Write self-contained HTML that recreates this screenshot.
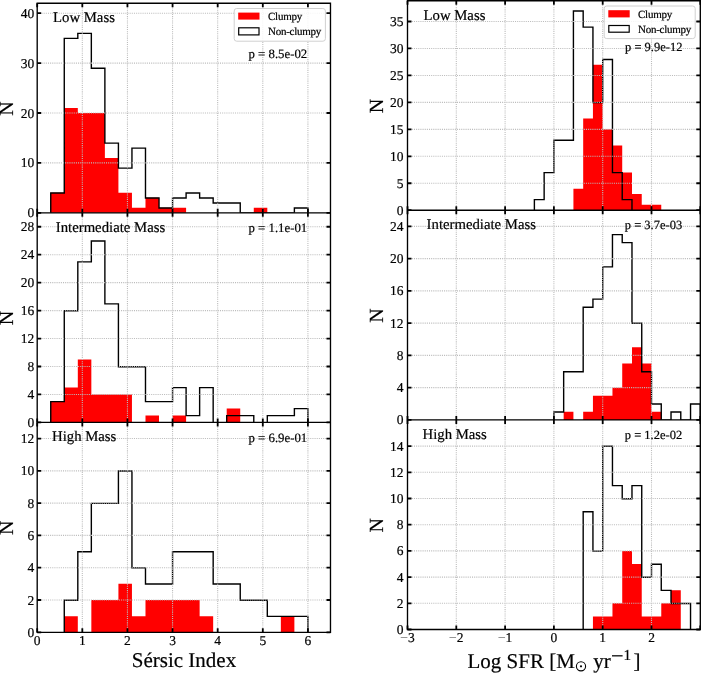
<!DOCTYPE html><html><head><meta charset="utf-8"><style>html,body{margin:0;padding:0;background:#fff;width:701px;height:678px;overflow:hidden}svg{display:block}text{font-family:"Liberation Serif", serif;fill:#000;text-rendering:geometricPrecision}.t{opacity:0.999}.t text{stroke:#000;stroke-width:0.2px}</style></head><body>
<svg width="701" height="678" viewBox="0 0 701 678">
<rect width="701" height="678" fill="#fff"/>
<clipPath id="c1"><rect x="37.2" y="3.2" width="293.28" height="209.6"/></clipPath>
<g clip-path="url(#c1)">
<path d="M50.74 213.4H64.27V192.84H50.74ZM64.27 213.4H77.81V108H64.27ZM77.81 213.4H91.34V112.99H77.81ZM91.34 213.4H104.88V112.99H91.34ZM104.88 213.4H118.42V157.9H104.88ZM118.42 213.4H131.95V192.84H118.42ZM131.95 213.4H145.49V207.81H131.95ZM145.49 213.4H159.02V197.83H145.49ZM159.02 213.4H172.56V207.81H159.02ZM172.56 213.4H186.1V207.81H172.56ZM253.78 213.4H267.31V207.81H253.78Z" fill="#ff0000"/>
<path d="M50.74 212.8 L50.74 192.84 L64.27 192.84 L64.27 38.13 L77.81 38.13 L77.81 33.14 L91.34 33.14 L91.34 68.08 L104.88 68.08 L104.88 142.93 L118.42 142.93 L118.42 167.89 L131.95 167.89 L131.95 147.92 L145.49 147.92 L145.49 197.83 L159.02 197.83 L159.02 207.81 L172.56 207.81 L172.56 197.83 L186.1 197.83 L186.1 192.84 L199.63 192.84 L199.63 197.83 L213.17 197.83 L213.17 202.82 L226.7 202.82 L226.7 202.82 L240.24 202.82 L240.24 212.8 L253.78 212.8 L253.78 212.8 L267.31 212.8 L267.31 212.8 L280.85 212.8 L280.85 212.8 L294.38 212.8 L294.38 207.81 L307.92 207.81 L307.92 212.8" fill="none" stroke="#000" stroke-width="1.4" stroke-linejoin="miter" transform="translate(0 0.2)"/>
<path d="M82.32 3.2V212.8M127.44 3.2V212.8M172.56 3.2V212.8M217.68 3.2V212.8M262.8 3.2V212.8M307.92 3.2V212.8M37.2 162.9H330.48M37.2 112.99H330.48M37.2 63.09H330.48M37.2 13.18H330.48" fill="none" stroke="#bcbcbc" stroke-width="1.1" stroke-dasharray="1.05 1.1"/>
</g>
<clipPath id="c2"><rect x="37.2" y="212.8" width="293.28" height="209.6"/></clipPath>
<g clip-path="url(#c2)">
<path d="M50.74 423H64.27V401.44H50.74ZM64.27 423H77.81V387.47H64.27ZM77.81 423H91.34V359.52H77.81ZM91.34 423H104.88V394.45H91.34ZM104.88 423H118.42V394.45H104.88ZM118.42 423H131.95V394.45H118.42ZM145.49 423H159.02V415.41H145.49ZM172.56 423H186.1V415.41H172.56ZM226.7 423H240.24V408.43H226.7Z" fill="#ff0000"/>
<path d="M50.74 422.4 L50.74 401.44 L64.27 401.44 L64.27 310.61 L77.81 310.61 L77.81 261.71 L91.34 261.71 L91.34 240.75 L104.88 240.75 L104.88 303.63 L118.42 303.63 L118.42 366.51 L131.95 366.51 L131.95 366.51 L145.49 366.51 L145.49 401.44 L159.02 401.44 L159.02 401.44 L172.56 401.44 L172.56 387.47 L186.1 387.47 L186.1 415.41 L199.63 415.41 L199.63 387.47 L213.17 387.47 L213.17 422.4 L226.7 422.4 L226.7 415.41 L240.24 415.41 L240.24 415.41 L253.78 415.41 L253.78 422.4 L267.31 422.4 L267.31 415.41 L280.85 415.41 L280.85 415.41 L294.38 415.41 L294.38 408.43 L307.92 408.43 L307.92 422.4" fill="none" stroke="#000" stroke-width="1.4" stroke-linejoin="miter" transform="translate(0 0.2)"/>
<path d="M82.32 212.8V422.4M127.44 212.8V422.4M172.56 212.8V422.4M217.68 212.8V422.4M262.8 212.8V422.4M307.92 212.8V422.4M37.2 394.45H330.48M37.2 366.51H330.48M37.2 338.56H330.48M37.2 310.61H330.48M37.2 282.67H330.48M37.2 254.72H330.48M37.2 226.77H330.48" fill="none" stroke="#bcbcbc" stroke-width="1.1" stroke-dasharray="1.05 1.1"/>
</g>
<clipPath id="c3"><rect x="37.2" y="422.4" width="293.28" height="209.9"/></clipPath>
<g clip-path="url(#c3)">
<path d="M64.27 632.9H77.81V616.15H64.27ZM91.34 632.9H104.88V600.01H91.34ZM104.88 632.9H118.42V600.01H104.88ZM118.42 632.9H131.95V583.86H118.42ZM131.95 632.9H145.49V616.15H131.95ZM145.49 632.9H159.02V600.01H145.49ZM159.02 632.9H172.56V600.01H159.02ZM172.56 632.9H186.1V600.01H172.56ZM186.1 632.9H199.63V600.01H186.1ZM199.63 632.9H213.17V616.15H199.63ZM280.85 632.9H294.38V616.15H280.85Z" fill="#ff0000"/>
<path d="M64.27 632.3 L64.27 600.01 L77.81 600.01 L77.81 551.57 L91.34 551.57 L91.34 503.13 L104.88 503.13 L104.88 503.13 L118.42 503.13 L118.42 470.84 L131.95 470.84 L131.95 567.72 L145.49 567.72 L145.49 583.86 L159.02 583.86 L159.02 583.86 L172.56 583.86 L172.56 551.57 L186.1 551.57 L186.1 551.57 L199.63 551.57 L199.63 551.57 L213.17 551.57 L213.17 583.86 L226.7 583.86 L226.7 583.86 L240.24 583.86 L240.24 600.01 L253.78 600.01 L253.78 600.01 L267.31 600.01 L267.31 616.15 L280.85 616.15 L280.85 616.15 L294.38 616.15 L294.38 616.15 L307.92 616.15 L307.92 632.3" fill="none" stroke="#000" stroke-width="1.4" stroke-linejoin="miter" transform="translate(0 0.2)"/>
<path d="M82.32 422.4V632.3M127.44 422.4V632.3M172.56 422.4V632.3M217.68 422.4V632.3M262.8 422.4V632.3M307.92 422.4V632.3M37.2 600.01H330.48M37.2 567.72H330.48M37.2 535.42H330.48M37.2 503.13H330.48M37.2 470.84H330.48M37.2 438.55H330.48" fill="none" stroke="#bcbcbc" stroke-width="1.1" stroke-dasharray="1.05 1.1"/>
</g>
<clipPath id="c4"><rect x="407.5" y="0.76" width="292.8" height="209.44"/></clipPath>
<g clip-path="url(#c4)">
<path d="M573.42 210.8H583.18V188.64H573.42ZM583.18 210.8H592.94V118.55H583.18ZM592.94 210.8H602.7V64.64H592.94ZM602.7 210.8H612.46V129.34H602.7ZM612.46 210.8H622.22V145.51H612.46ZM622.22 210.8H631.98V172.46H622.22ZM631.98 210.8H641.74V194.03H631.98ZM641.74 210.8H651.5V204.81H641.74ZM651.5 210.8H661.26V204.81H651.5Z" fill="#ff0000"/>
<path d="M534.38 210.2 L534.38 199.42 L544.14 199.42 L544.14 172.46 L553.9 172.46 L553.9 140.12 L563.66 140.12 L563.66 140.12 L573.42 140.12 L573.42 10.73 L583.18 10.73 L583.18 26.91 L592.94 26.91 L592.94 102.38 L602.7 102.38 L602.7 59.25 L612.46 59.25 L612.46 172.46 L622.22 172.46 L622.22 199.42 L631.98 199.42 L631.98 210.2" fill="none" stroke="#000" stroke-width="1.4" stroke-linejoin="miter" transform="translate(0 0.2)"/>
<path d="M456.3 0.76V210.2M505.1 0.76V210.2M553.9 0.76V210.2M602.7 0.76V210.2M651.5 0.76V210.2M407.5 183.25H700.3M407.5 156.29H700.3M407.5 129.34H700.3M407.5 102.38H700.3M407.5 75.43H700.3M407.5 48.47H700.3M407.5 21.52H700.3" fill="none" stroke="#bcbcbc" stroke-width="1.1" stroke-dasharray="1.05 1.1"/>
</g>
<clipPath id="c5"><rect x="407.5" y="210.2" width="292.8" height="209.7"/></clipPath>
<g clip-path="url(#c5)">
<path d="M563.66 420.5H573.42V411.83H563.66ZM583.18 420.5H592.94V411.83H583.18ZM592.94 420.5H602.7V395.7H592.94ZM602.7 420.5H612.46V395.7H602.7ZM612.46 420.5H622.22V387.64H612.46ZM622.22 420.5H631.98V363.44H622.22ZM631.98 420.5H641.74V347.31H631.98ZM641.74 420.5H651.5V363.44H641.74ZM651.5 420.5H661.26V411.83H651.5Z" fill="#ff0000"/>
<path d="M553.9 419.9 L553.9 411.83 L563.66 411.83 L563.66 371.51 L573.42 371.51 L573.42 371.51 L583.18 371.51 L583.18 306.98 L592.94 306.98 L592.94 298.92 L602.7 298.92 L602.7 266.66 L612.46 266.66 L612.46 234.4 L622.22 234.4 L622.22 242.46 L631.98 242.46 L631.98 323.12 L641.74 323.12 L641.74 371.51 L651.5 371.51 L651.5 403.77 L661.26 403.77 L661.26 419.9 L671.02 419.9 L671.02 411.83 L680.78 411.83 L680.78 419.9 L690.54 419.9 L690.54 403.77 L700.3 403.77 L700.3 419.9" fill="none" stroke="#000" stroke-width="1.4" stroke-linejoin="miter" transform="translate(0 0.2)"/>
<path d="M456.3 210.2V419.9M505.1 210.2V419.9M553.9 210.2V419.9M602.7 210.2V419.9M651.5 210.2V419.9M407.5 387.64H700.3M407.5 355.38H700.3M407.5 323.12H700.3M407.5 290.85H700.3M407.5 258.59H700.3M407.5 226.33H700.3" fill="none" stroke="#bcbcbc" stroke-width="1.1" stroke-dasharray="1.05 1.1"/>
</g>
<clipPath id="c6"><rect x="407.5" y="419.9" width="292.8" height="209.6"/></clipPath>
<g clip-path="url(#c6)">
<path d="M592.94 630.1H602.7V616.4H592.94ZM602.7 630.1H612.46V616.4H602.7ZM612.46 630.1H622.22V603.3H612.46ZM622.22 630.1H631.98V550.9H622.22ZM631.98 630.1H641.74V564H631.98ZM641.74 630.1H651.5V616.4H641.74ZM651.5 630.1H661.26V616.4H651.5ZM661.26 630.1H671.02V603.3H661.26ZM671.02 630.1H680.78V590.2H671.02Z" fill="#ff0000"/>
<path d="M583.18 629.5 L583.18 511.6 L592.94 511.6 L592.94 550.9 L602.7 550.9 L602.7 446.1 L612.46 446.1 L612.46 485.4 L622.22 485.4 L622.22 498.5 L631.98 498.5 L631.98 485.4 L641.74 485.4 L641.74 577.1 L651.5 577.1 L651.5 564 L661.26 564 L661.26 590.2 L671.02 590.2 L671.02 603.3 L680.78 603.3 L680.78 603.3 L690.54 603.3 L690.54 629.5" fill="none" stroke="#000" stroke-width="1.4" stroke-linejoin="miter" transform="translate(0 0.2)"/>
<path d="M456.3 419.9V629.5M505.1 419.9V629.5M553.9 419.9V629.5M602.7 419.9V629.5M651.5 419.9V629.5M407.5 603.3H700.3M407.5 577.1H700.3M407.5 550.9H700.3M407.5 524.7H700.3M407.5 498.5H700.3M407.5 472.3H700.3M407.5 446.1H700.3" fill="none" stroke="#bcbcbc" stroke-width="1.1" stroke-dasharray="1.05 1.1"/>
</g>
<path d="M37.2 212.8v-4M37.2 3.2v4M82.32 212.8v-4M82.32 3.2v4M127.44 212.8v-4M127.44 3.2v4M172.56 212.8v-4M172.56 3.2v4M217.68 212.8v-4M217.68 3.2v4M262.8 212.8v-4M262.8 3.2v4M307.92 212.8v-4M307.92 3.2v4M37.2 212.8h4M330.48 212.8h-4M37.2 162.9h4M330.48 162.9h-4M37.2 112.99h4M330.48 112.99h-4M37.2 63.09h4M330.48 63.09h-4M37.2 13.18h4M330.48 13.18h-4" stroke="#000" stroke-width="1.8" fill="none"/>
<path d="M37.2 422.4v-4M37.2 212.8v4M82.32 422.4v-4M82.32 212.8v4M127.44 422.4v-4M127.44 212.8v4M172.56 422.4v-4M172.56 212.8v4M217.68 422.4v-4M217.68 212.8v4M262.8 422.4v-4M262.8 212.8v4M307.92 422.4v-4M307.92 212.8v4M37.2 422.4h4M330.48 422.4h-4M37.2 394.45h4M330.48 394.45h-4M37.2 366.51h4M330.48 366.51h-4M37.2 338.56h4M330.48 338.56h-4M37.2 310.61h4M330.48 310.61h-4M37.2 282.67h4M330.48 282.67h-4M37.2 254.72h4M330.48 254.72h-4M37.2 226.77h4M330.48 226.77h-4" stroke="#000" stroke-width="1.8" fill="none"/>
<path d="M37.2 632.3v-4M37.2 422.4v4M82.32 632.3v-4M82.32 422.4v4M127.44 632.3v-4M127.44 422.4v4M172.56 632.3v-4M172.56 422.4v4M217.68 632.3v-4M217.68 422.4v4M262.8 632.3v-4M262.8 422.4v4M307.92 632.3v-4M307.92 422.4v4M37.2 632.3h4M330.48 632.3h-4M37.2 600.01h4M330.48 600.01h-4M37.2 567.72h4M330.48 567.72h-4M37.2 535.42h4M330.48 535.42h-4M37.2 503.13h4M330.48 503.13h-4M37.2 470.84h4M330.48 470.84h-4M37.2 438.55h4M330.48 438.55h-4" stroke="#000" stroke-width="1.8" fill="none"/>
<path d="M37.2 3.2H330.48V632.3H37.2ZM37.2 212.8H330.48M37.2 422.4H330.48" fill="none" stroke="#000" stroke-width="1.35"/>
<path d="M407.5 210.2v-4M407.5 0.76v4M456.3 210.2v-4M456.3 0.76v4M505.1 210.2v-4M505.1 0.76v4M553.9 210.2v-4M553.9 0.76v4M602.7 210.2v-4M602.7 0.76v4M651.5 210.2v-4M651.5 0.76v4M700.3 210.2v-4M700.3 0.76v4M407.5 210.2h4M700.3 210.2h-4M407.5 183.25h4M700.3 183.25h-4M407.5 156.29h4M700.3 156.29h-4M407.5 129.34h4M700.3 129.34h-4M407.5 102.38h4M700.3 102.38h-4M407.5 75.43h4M700.3 75.43h-4M407.5 48.47h4M700.3 48.47h-4M407.5 21.52h4M700.3 21.52h-4" stroke="#000" stroke-width="1.8" fill="none"/>
<path d="M407.5 419.9v-4M407.5 210.2v4M456.3 419.9v-4M456.3 210.2v4M505.1 419.9v-4M505.1 210.2v4M553.9 419.9v-4M553.9 210.2v4M602.7 419.9v-4M602.7 210.2v4M651.5 419.9v-4M651.5 210.2v4M700.3 419.9v-4M700.3 210.2v4M407.5 419.9h4M700.3 419.9h-4M407.5 387.64h4M700.3 387.64h-4M407.5 355.38h4M700.3 355.38h-4M407.5 323.12h4M700.3 323.12h-4M407.5 290.85h4M700.3 290.85h-4M407.5 258.59h4M700.3 258.59h-4M407.5 226.33h4M700.3 226.33h-4" stroke="#000" stroke-width="1.8" fill="none"/>
<path d="M407.5 629.5v-4M407.5 419.9v4M456.3 629.5v-4M456.3 419.9v4M505.1 629.5v-4M505.1 419.9v4M553.9 629.5v-4M553.9 419.9v4M602.7 629.5v-4M602.7 419.9v4M651.5 629.5v-4M651.5 419.9v4M700.3 629.5v-4M700.3 419.9v4M407.5 629.5h4M700.3 629.5h-4M407.5 603.3h4M700.3 603.3h-4M407.5 577.1h4M700.3 577.1h-4M407.5 550.9h4M700.3 550.9h-4M407.5 524.7h4M700.3 524.7h-4M407.5 498.5h4M700.3 498.5h-4M407.5 472.3h4M700.3 472.3h-4M407.5 446.1h4M700.3 446.1h-4" stroke="#000" stroke-width="1.8" fill="none"/>
<path d="M407.5 0.76H700.3V629.5H407.5ZM407.5 210.2H700.3M407.5 419.9H700.3" fill="none" stroke="#000" stroke-width="1.35"/>
<g class="t">
<text x="34.2" y="217.39" font-size="13.5" text-anchor="end">0</text>
<text x="34.2" y="167.49" font-size="13.5" text-anchor="end">10</text>
<text x="34.2" y="117.58" font-size="13.5" text-anchor="end">20</text>
<text x="34.2" y="67.68" font-size="13.5" text-anchor="end">30</text>
<text x="34.2" y="17.77" font-size="13.5" text-anchor="end">40</text>
<text x="34.2" y="426.99" font-size="13.5" text-anchor="end">0</text>
<text x="34.2" y="399.04" font-size="13.5" text-anchor="end">4</text>
<text x="34.2" y="371.1" font-size="13.5" text-anchor="end">8</text>
<text x="34.2" y="343.15" font-size="13.5" text-anchor="end">12</text>
<text x="34.2" y="315.2" font-size="13.5" text-anchor="end">16</text>
<text x="34.2" y="287.26" font-size="13.5" text-anchor="end">20</text>
<text x="34.2" y="259.31" font-size="13.5" text-anchor="end">24</text>
<text x="34.2" y="231.36" font-size="13.5" text-anchor="end">28</text>
<text x="34.2" y="636.89" font-size="13.5" text-anchor="end">0</text>
<text x="34.2" y="604.6" font-size="13.5" text-anchor="end">2</text>
<text x="34.2" y="572.31" font-size="13.5" text-anchor="end">4</text>
<text x="34.2" y="540.01" font-size="13.5" text-anchor="end">6</text>
<text x="34.2" y="507.72" font-size="13.5" text-anchor="end">8</text>
<text x="34.2" y="475.43" font-size="13.5" text-anchor="end">10</text>
<text x="34.2" y="443.14" font-size="13.5" text-anchor="end">12</text>
<text x="403.5" y="214.79" font-size="13.5" text-anchor="end">0</text>
<text x="403.5" y="187.84" font-size="13.5" text-anchor="end">5</text>
<text x="403.5" y="160.88" font-size="13.5" text-anchor="end">10</text>
<text x="403.5" y="133.93" font-size="13.5" text-anchor="end">15</text>
<text x="403.5" y="106.97" font-size="13.5" text-anchor="end">20</text>
<text x="403.5" y="80.02" font-size="13.5" text-anchor="end">25</text>
<text x="403.5" y="53.06" font-size="13.5" text-anchor="end">30</text>
<text x="403.5" y="26.11" font-size="13.5" text-anchor="end">35</text>
<text x="403.5" y="424.49" font-size="13.5" text-anchor="end">0</text>
<text x="403.5" y="392.23" font-size="13.5" text-anchor="end">4</text>
<text x="403.5" y="359.97" font-size="13.5" text-anchor="end">8</text>
<text x="403.5" y="327.71" font-size="13.5" text-anchor="end">12</text>
<text x="403.5" y="295.44" font-size="13.5" text-anchor="end">16</text>
<text x="403.5" y="263.18" font-size="13.5" text-anchor="end">20</text>
<text x="403.5" y="230.92" font-size="13.5" text-anchor="end">24</text>
<text x="403.5" y="634.09" font-size="13.5" text-anchor="end">0</text>
<text x="403.5" y="607.89" font-size="13.5" text-anchor="end">2</text>
<text x="403.5" y="581.69" font-size="13.5" text-anchor="end">4</text>
<text x="403.5" y="555.49" font-size="13.5" text-anchor="end">6</text>
<text x="403.5" y="529.29" font-size="13.5" text-anchor="end">8</text>
<text x="403.5" y="503.09" font-size="13.5" text-anchor="end">10</text>
<text x="403.5" y="476.89" font-size="13.5" text-anchor="end">12</text>
<text x="403.5" y="450.69" font-size="13.5" text-anchor="end">14</text>
<text x="37.2" y="645" font-size="13.5" text-anchor="middle">0</text>
<text x="82.32" y="645" font-size="13.5" text-anchor="middle">1</text>
<text x="127.44" y="645" font-size="13.5" text-anchor="middle">2</text>
<text x="172.56" y="645" font-size="13.5" text-anchor="middle">3</text>
<text x="217.68" y="645" font-size="13.5" text-anchor="middle">4</text>
<text x="262.8" y="645" font-size="13.5" text-anchor="middle">5</text>
<text x="307.92" y="645" font-size="13.5" text-anchor="middle">6</text>
<text x="407.5" y="642" font-size="13.5" text-anchor="middle"><tspan fill="#707070" style="stroke:#909090">−</tspan>3</text>
<text x="456.3" y="642" font-size="13.5" text-anchor="middle"><tspan fill="#707070" style="stroke:#909090">−</tspan>2</text>
<text x="505.1" y="642" font-size="13.5" text-anchor="middle"><tspan fill="#707070" style="stroke:#909090">−</tspan>1</text>
<text x="553.9" y="642" font-size="13.5" text-anchor="middle">0</text>
<text x="602.7" y="642" font-size="13.5" text-anchor="middle">1</text>
<text x="651.5" y="642" font-size="13.5" text-anchor="middle">2</text>
<text x="53.0" y="22.0" font-size="14.75">Low Mass</text>
<text x="55.8" y="231.9" font-size="14.75">Intermediate Mass</text>
<text x="52.0" y="441.4" font-size="14.75">High Mass</text>
<text x="423.5" y="19.5" font-size="14.75">Low Mass</text>
<text x="426.6" y="229.4" font-size="14.75">Intermediate Mass</text>
<text x="422.5" y="438.8" font-size="14.75">High Mass</text>
<text x="248.5" y="57.7" font-size="12.8">p = 8.5e-02</text>
<text x="248.5" y="231.9" font-size="12.8">p = 1.1e-01</text>
<text x="248.5" y="441.5" font-size="12.8">p = 6.9e-01</text>
<text x="625.0" y="51.0" font-size="12.5">p = 9.9e-12</text>
<text x="624.8" y="229.1" font-size="12.5">p = 3.7e-03</text>
<text x="624.8" y="439.2" font-size="12.5">p = 1.2e-02</text>
<rect x="234.2" y="8.5" width="91.2" height="32.7" rx="2.5" fill="#fff" fill-opacity="0.85" stroke="#d0d0d0" stroke-width="1"/>
<rect x="238.2" y="12.6" width="21.3" height="7" fill="#ff0000"/>
<rect x="238.7" y="27.8" width="20.3" height="7.1" fill="#fff" stroke="#000" stroke-width="1.2"/>
<text x="268" y="20.2" font-size="11" letter-spacing="-0.25">Clumpy</text>
<text x="268" y="34.9" font-size="11" letter-spacing="-0.25">Non-clumpy</text>
<rect x="604.2" y="6" width="91" height="32.6" rx="2.5" fill="#fff" fill-opacity="0.85" stroke="#d0d0d0" stroke-width="1"/>
<rect x="608.3" y="10.2" width="21.4" height="7.2" fill="#ff0000"/>
<rect x="608.8" y="25.5" width="20.4" height="6.7" fill="#fff" stroke="#000" stroke-width="1.2"/>
<text x="638" y="17.7" font-size="11" letter-spacing="-0.25">Clumpy</text>
<text x="638" y="32.7" font-size="11" letter-spacing="-0.25">Non-clumpy</text>
<text x="0" y="0" font-size="20" text-anchor="middle" transform="translate(12.9 108.5) rotate(-90)">N</text>
<text x="0" y="0" font-size="20" text-anchor="middle" transform="translate(12.9 318.1) rotate(-90)">N</text>
<text x="0" y="0" font-size="20" text-anchor="middle" transform="translate(12.9 527.85) rotate(-90)">N</text>
<text x="0" y="0" font-size="20" text-anchor="middle" transform="translate(383 105.98) rotate(-90)">N</text>
<text x="0" y="0" font-size="20" text-anchor="middle" transform="translate(383 315.55) rotate(-90)">N</text>
<text x="0" y="0" font-size="20" text-anchor="middle" transform="translate(383 525.2) rotate(-90)">N</text>
<text x="184" y="666.6" font-size="21" text-anchor="middle">Sérsic Index</text>
<text x="467.5" y="667.6" font-size="21">Log SFR [M</text>
<circle cx="581.0" cy="666.3" r="4.6" fill="none" stroke="#000" stroke-width="1.1"/>
<circle cx="581.0" cy="666.3" r="1.1" fill="#000"/>
<text x="593.2" y="667.6" font-size="21">yr</text>
<rect x="612.0" y="655.2" width="10.6" height="1.25" fill="#000"/>
<text x="623.6" y="659.6" font-size="15.2">1</text>
<text x="633.5" y="667.6" font-size="21">]</text>
</g>
</svg></body></html>
